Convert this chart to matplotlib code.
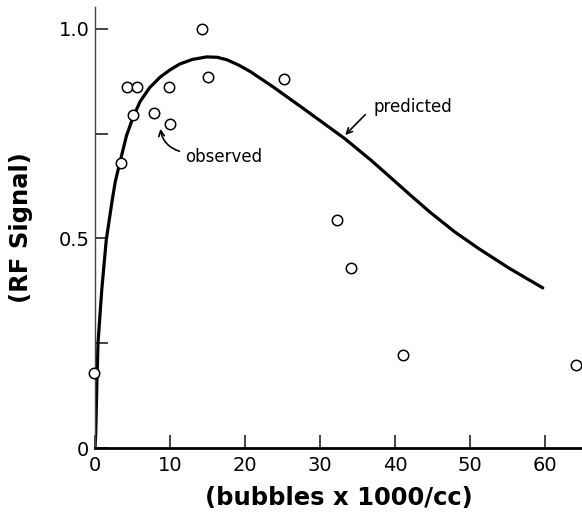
"""
Courbe RF signal vs concentration de bulles: observé vs prédit.
"""

import matplotlib
matplotlib.use("Agg")
import matplotlib.pyplot as plt

# observed points (bubbles x 1000/cc, RF signal)
obs_x = [-0.1, 3.5, 4.2, 5.1, 5.6, 7.9, 9.9, 10.0, 14.3, 15.1, 25.2,
         32.3, 34.1, 41.0, 64.1]
obs_y = [0.18, 0.68, 0.862, 0.795, 0.862, 0.80, 0.862, 0.773, 1.0, 0.886,
         0.88, 0.544, 0.43, 0.222, 0.198]

# predicted curve
pred_x = [0.0, 0.1, 0.25, 0.4, 0.9, 1.5, 2.3, 2.7, 3.3, 4.2, 5.1, 6.0,
          7.3, 8.7, 10.0, 11.3, 13.0, 14.9, 16.3, 17.6, 19.2, 20.7, 22.2,
          23.7, 25.5, 27.3, 30.0, 33.3, 36.7, 39.3, 42.0, 44.7, 48.0,
          51.3, 55.3, 59.7]
pred_y = [0.0, 0.036, 0.155, 0.25, 0.377, 0.496, 0.592, 0.635, 0.68,
          0.745, 0.79, 0.826, 0.86, 0.885, 0.902, 0.916, 0.927, 0.933,
          0.932, 0.926, 0.913, 0.898, 0.880, 0.862, 0.839, 0.816, 0.781,
          0.738, 0.688, 0.647, 0.604, 0.562, 0.515, 0.474, 0.428, 0.382]

yticks = [0, 0.25, 0.5, 0.75, 1.0]
ytick_labels = ["0", "", "0.5", "", "1.0"]
xticks = [0, 10, 20, 30, 40, 50, 60]


def main():
    fig = plt.figure(figsize=(5.82, 5.17), dpi=100)
    ax = fig.add_axes([95 / 582, 69 / 517, 487 / 582, 441 / 517])

    ax.plot(pred_x, pred_y, color="black", lw=2.3, solid_capstyle="round",
            solid_joinstyle="round")
    ax.plot(obs_x, obs_y, "o", ms=7.5, mfc="white", mec="black", mew=1.1,
            clip_on=False, zorder=3)

    ax.set_xlim(0, 64.93)
    ax.set_ylim(0, 1.052)
    for side in ("top", "right"):
        ax.spines[side].set_visible(False)
    ax.spines["left"].set_linewidth(1.0)
    ax.spines["left"].set_color("#444444")
    ax.spines["bottom"].set_linewidth(2.0)

    ax.set_xticks(xticks)
    ax.set_xticklabels([str(v) for v in xticks])
    ax.set_yticks(yticks)
    ax.set_yticklabels(ytick_labels)
    ax.tick_params(axis="both", direction="in", length=9.5, width=1.2,
                   labelsize=14, color="#222222")
    ax.tick_params(axis="x", pad=6)
    ax.tick_params(axis="y", pad=4)

    ax.set_xlabel("(bubbles x 1000/cc)", fontsize=17.5, fontweight="bold",
                  labelpad=8)
    ax.set_ylabel("(RF Signal)", fontsize=17.5, fontweight="bold",
                  labelpad=18)

    ax.text(12.0, 0.695, "observed", fontsize=12, ha="left", va="center")
    ax.annotate("", xy=(8.67, 0.768), xytext=(11.6, 0.706),
                arrowprops=dict(arrowstyle="->", lw=1.2,
                                connectionstyle="arc3,rad=-0.35"))
    ax.text(37.1, 0.814, "predicted", fontsize=12, ha="left", va="center")
    ax.annotate("", xy=(33.1, 0.742), xytext=(36.3, 0.80),
                arrowprops=dict(arrowstyle="->", lw=1.2))

    fig.savefig("out.png", dpi=100)


if __name__ == "__main__":
    main()
